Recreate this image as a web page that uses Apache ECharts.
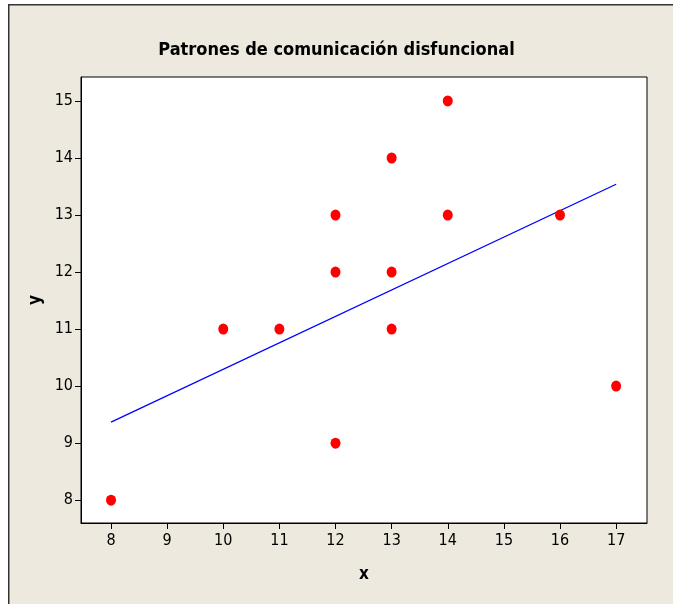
<!DOCTYPE html>
<html>
<head>
<meta charset="utf-8">
<script src="https://cdn.jsdelivr.net/npm/echarts@6/dist/echarts.min.js"></script>
<style>
html,body{margin:0;padding:0;background:#fff;}
#c{width:673px;height:604px;}
</style>
</head>
<body>
<div id="c"></div>
<script>
const titleText = "Patrones de comunicación disfuncional";
const xValues = [8, 10, 11, 12, 12, 12, 13, 13, 13, 14, 14, 16, 17];
const yValues = [8, 11, 11, 13, 12, 9, 14, 12, 11, 15, 13, 13, 10];
const fitX = [8, 17];
const fitY = [9.37, 13.54];
const xTicks = [8, 9, 10, 11, 12, 13, 14, 15, 16, 17];
const yTicks = [8, 9, 10, 11, 12, 13, 14, 15];

const FONT = '"Liberation Sans Narrow", "DejaVu Sans Condensed", "Liberation Sans", sans-serif';
const chart = echarts.init(document.getElementById('c'));
chart.setOption({
  animation: false,
  backgroundColor: '#fff',
  graphic: [{
    type: 'rect', left: 8, top: 4, z: -10,
    shape: {width: 670, height: 610},
    style: {fill: '#EDE9DF', stroke: '#333', lineWidth: 1.5}
  }],
  title: {
    text: titleText, left: 'center', top: 36,
    textStyle: {fontFamily: FONT, fontWeight: 'bold', fontSize: 18, color: '#000'}
  },
  grid: {left: 81, right: 26, top: 77, bottom: 81, show: true, backgroundColor: '#fff', borderColor: '#000', borderWidth: 1},
  xAxis: {
    type: 'value', min: 7.465, max: 17.55, interval: 1,
    name: 'x', nameLocation: 'middle', nameGap: 43,
    nameTextStyle: {fontFamily: FONT, fontWeight: 'bold', fontSize: 17, color: '#000'},
    axisLine: {show: true, onZero: false, lineStyle: {color: '#000'}},
    axisTick: {show: true, length: 6, lineStyle: {color: '#000'}, customValues: xTicks},
    axisLabel: {fontFamily: FONT, fontSize: 16, color: '#000', margin: 10, customValues: xTicks},
    splitLine: {show: false}
  },
  yAxis: {
    type: 'value', min: 7.6, max: 15.42, interval: 1,
    name: 'y', nameLocation: 'middle', nameGap: 36,
    nameTextStyle: {fontFamily: FONT, fontWeight: 'bold', fontSize: 17, color: '#000'},
    axisLine: {show: true, onZero: false, lineStyle: {color: '#000'}},
    axisTick: {show: true, length: 6, lineStyle: {color: '#000'}, customValues: yTicks},
    axisLabel: {fontFamily: FONT, fontSize: 16, color: '#000', margin: 8, customValues: yTicks},
    splitLine: {show: false}
  },
  series: [
    {
      type: 'line', data: fitX.map((x, i) => [x, fitY[i]]),
      symbol: 'none', lineStyle: {color: '#0000FF', width: 1.3}, z: 2
    },
    {
      type: 'scatter', data: xValues.map((x, i) => [x, yValues[i]]),
      symbol: 'circle', symbolSize: [10, 11],
      itemStyle: {color: '#FF0000', opacity: 1}, z: 3
    }
  ]
});
</script>
</body>
</html>
